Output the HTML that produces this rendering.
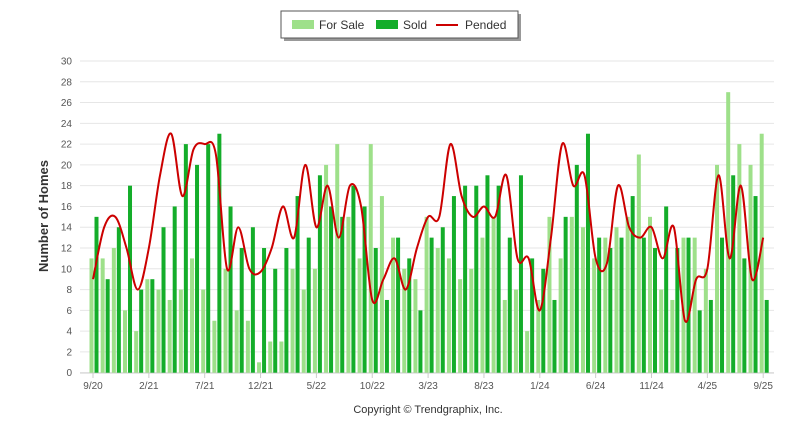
<!DOCTYPE html>
<html><head><meta charset="utf-8"><style>
body{margin:0;background:#fff;width:800px;height:434px;overflow:hidden;font-family:"Liberation Sans",Arial,sans-serif}
</style></head><body>
<svg id="c" width="800" height="434" xmlns="http://www.w3.org/2000/svg" font-family="Liberation Sans, Arial, sans-serif"></svg>
<script>
var L=[11,11,12,6,4,9,8,7,8,11,8,5,10,6,5,1,3,3,10,8,10,20,22,15,11,22,17,13,10,9,15,12,11,9,10,13,15,7,8,4,7,15,11,15,14,11,13,14,15,21,15,8,7,13,13,10,20,27,22,20,23];
var D=[15,9,14,18,8,9,14,16,22,20,22,23,16,12,14,12,10,12,17,13,19,16,15,18,16,12,7,13,11,6,13,14,17,18,18,19,18,13,19,11,10,7,15,20,23,13,12,13,17,13,12,16,12,13,6,7,13,19,11,17,7];
var P=[9,14,15,12,8,12,19,23,17,21.5,22,21,10,14,10,9.7,12,16,13,20,14,18,13,18,16,7,9,11,8,12,15,15,22,17,15,16,15,19,11,11,6,13,22,18,19,11,10.5,18,14,13,14,11,14,5,9,10,19,11,18,9,13];
var s='',y0=372.7,u=10.39,tx=function(i){return 93+i*11.17};
s+='<rect x="88" y="60" width="686" height="313" fill="#fff"/>';
for(var v=0;v<=30;v+=2){var y=y0-v*u;s+='<line x1="80" x2="774" y1="'+y+'" y2="'+y+'" stroke="#e6e6e6" stroke-width="1"/>';s+='<text x="72" y="'+(y+3.5)+'" font-size="10" fill="#555" text-anchor="end">'+v+'</text>';}
s+='<line x1="80" x2="774" y1="373" y2="373" stroke="#ccc"/>';
for(var i=0;i<61;i++){var x=tx(i);s+='<rect x="'+(x-3.5)+'" y="'+(y0-L[i]*u)+'" width="4" height="'+(L[i]*u)+'" fill="#9ee08a"/>';s+='<rect x="'+(x+1.5)+'" y="'+(y0-D[i]*u)+'" width="4" height="'+(D[i]*u)+'" fill="#14ad2a"/>';}
var lab=['9/20','2/21','7/21','12/21','5/22','10/22','3/23','8/23','1/24','6/24','11/24','4/25','9/25'];
for(var k=0;k<13;k++){var x=tx(k*5);s+='<line x1="'+x+'" x2="'+x+'" y1="373" y2="378" stroke="#ccc"/><text x="'+x+'" y="389" font-size="10" fill="#555" text-anchor="middle">'+lab[k]+'</text>';}
var pts=P.map(function(v,i){return [tx(i),y0-v*u]});
var d='M'+pts[0][0]+','+pts[0][1];
for(var i=0;i<pts.length-1;i++){var p0=pts[i-1]||pts[i],p1=pts[i],p2=pts[i+1],p3=pts[i+2]||p2;
d+=' C'+(p1[0]+(p2[0]-p0[0])/6)+','+(p1[1]+(p2[1]-p0[1])/6)+' '+(p2[0]-(p3[0]-p1[0])/6)+','+(p2[1]-(p3[1]-p1[1])/6)+' '+p2[0]+','+p2[1];}
s+='<path d="'+d+'" fill="none" stroke="#cc0000" stroke-width="2"/>';
s+='<text transform="translate(48,216) rotate(-90)" font-size="13" font-weight="bold" fill="#333" text-anchor="middle">Number of Homes</text>';
s+='<text x="428" y="413" font-size="11" fill="#333" text-anchor="middle">Copyright © Trendgraphix, Inc.</text>';
s+='<rect x="284" y="14" width="237" height="27" fill="#999"/><rect x="281" y="11" width="237" height="27" fill="#fff" stroke="#555"/>';
s+='<rect x="292" y="20" width="22" height="9" fill="#9ee08a"/><text x="319" y="29" font-size="12" fill="#333">For Sale</text>';
s+='<rect x="376" y="20" width="22" height="9" fill="#14ad2a"/><text x="403" y="29" font-size="12" fill="#333">Sold</text>';
s+='<line x1="436" x2="458" y1="25" y2="25" stroke="#cc0000" stroke-width="2"/><text x="465" y="29" font-size="12" fill="#333">Pended</text>';
document.getElementById('c').innerHTML=s;
</script>
</body></html>
